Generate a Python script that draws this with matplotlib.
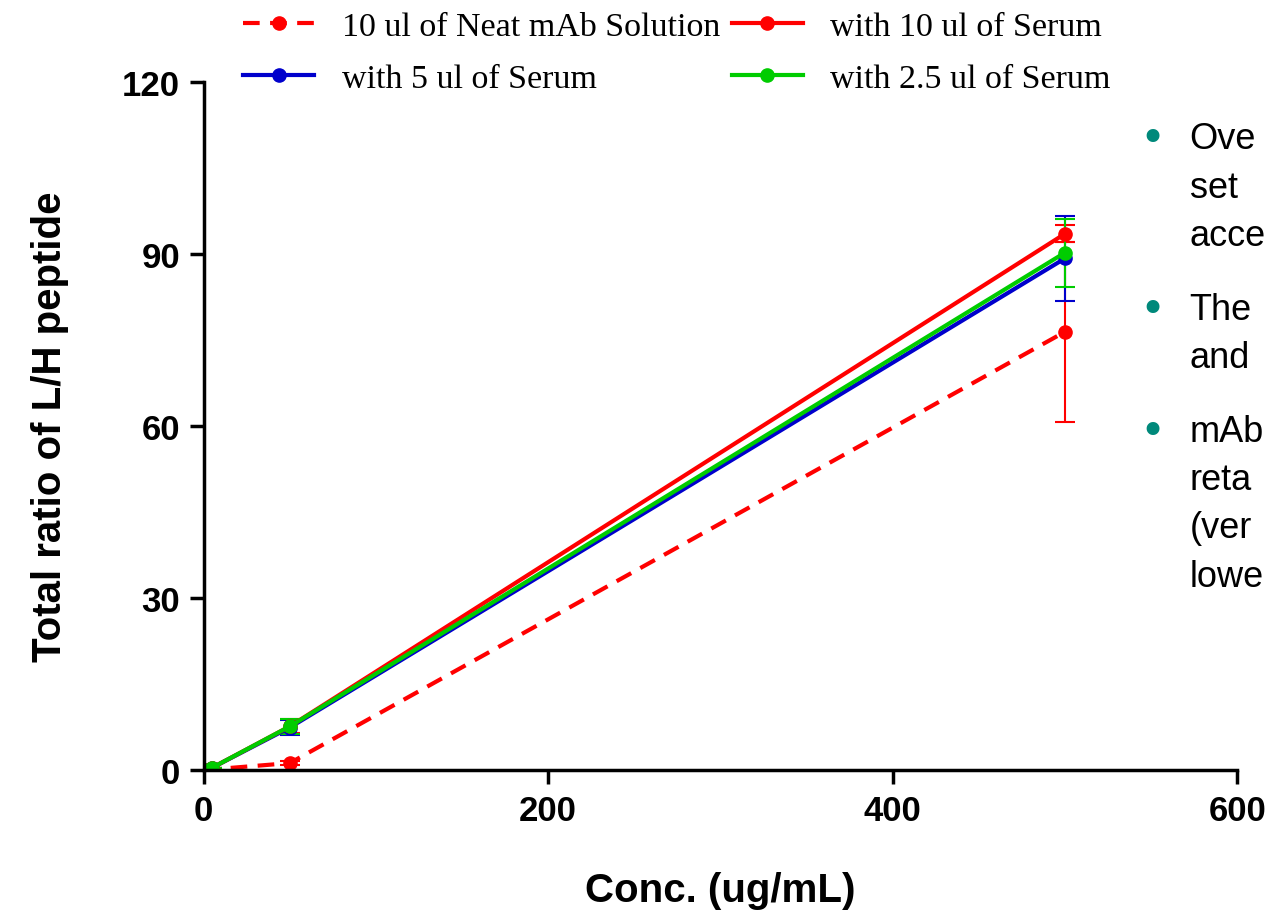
import numpy as np
import matplotlib.pyplot as plt

conc = [0, 5, 50, 500]
neat_mab = [0, 0.1, 1.2, 76.4]
serum_10 = [0, 0.4, 7.6, 93.5]
serum_5 = [0, 0.4, 7.4, 89.2]
serum_2_5 = [0, 0.4, 7.6, 90.2]

neat_err = [0, 0, 0.3, 15.7]
s10_err = [0, 0, 1.2, 1.5]
s5_err = [0, 0, 1.3, 7.4]
s25_err = [0, 0, 1.3, 5.9]

notes = [["Ove", "set", "acce"], ["The", "and"], ["mAb", "reta", "(ver", "lowe"]]

fig = plt.figure(figsize=(12.65, 9.2), dpi=100)
ax = fig.add_axes([0.161, 0.162, 0.817, 0.748])

kw = dict(marker='o', markersize=9.5, linewidth=3, capsize=7, elinewidth=1.5, capthick=1.5)
e1 = ax.errorbar(conc, neat_mab, yerr=neat_err, color='#ff0000', linestyle=(0, (4, 2.5)), **kw)
e2 = ax.errorbar(conc, serum_5, yerr=s5_err, color='#0000cc', **kw)
e3 = ax.errorbar(conc, serum_10, yerr=s10_err, color='#ff0000', **kw)
e4 = ax.errorbar(conc, serum_2_5, yerr=s25_err, color='#00cc00', **kw)

ax.set_xlim(0, 600)
ax.set_ylim(0, 120)
ax.set_xticks([0, 200, 400, 600])
ax.set_yticks([0, 30, 60, 90, 120])
for s in ['top', 'right']:
    ax.spines[s].set_visible(False)
for s in ['left', 'bottom']:
    ax.spines[s].set_linewidth(2.5)
ax.tick_params(width=2.5, length=10, labelsize=25, pad=7)
for lab in ax.get_xticklabels() + ax.get_yticklabels():
    lab.set_fontfamily('Liberation Sans')
    lab.set_fontweight('bold')

ax.set_xlabel('Conc. (ug/mL)', fontsize=29, fontweight='bold', family='Liberation Sans', labelpad=32)
ax.set_ylabel('Total ratio of L/H peptide', fontsize=29, fontweight='bold', family='Liberation Sans', labelpad=38)

labels = ['10 ul of Neat mAb Solution', 'with 5 ul of Serum', 'with 10 ul of Serum', 'with 2.5 ul of Serum']
handles = [e1[0], e2[0], e3[0], e4[0]]
leg = fig.legend(handles, labels, ncol=2, loc='upper center', bbox_to_anchor=(0.535, 1.02),
                 frameon=False, prop={'family': 'Liberation Serif', 'size': 24.5},
                 handlelength=2.1, handletextpad=0.8, columnspacing=0.35, labelspacing=0.62)

dy = 0.0525
starts = [0.848, 0.663, 0.53]
for grp, y0 in zip(notes, starts):
    for i, t in enumerate(grp):
        fig.text(0.9405, y0 - i * dy, t, fontsize=26, family='Liberation Sans', va='center', ha='left')
    fig.text(0.9005, y0 + 0.0, u'\u2022', fontsize=32, color='#00897b', va='center', ha='left')

fig.savefig('out.png', dpi=100)
